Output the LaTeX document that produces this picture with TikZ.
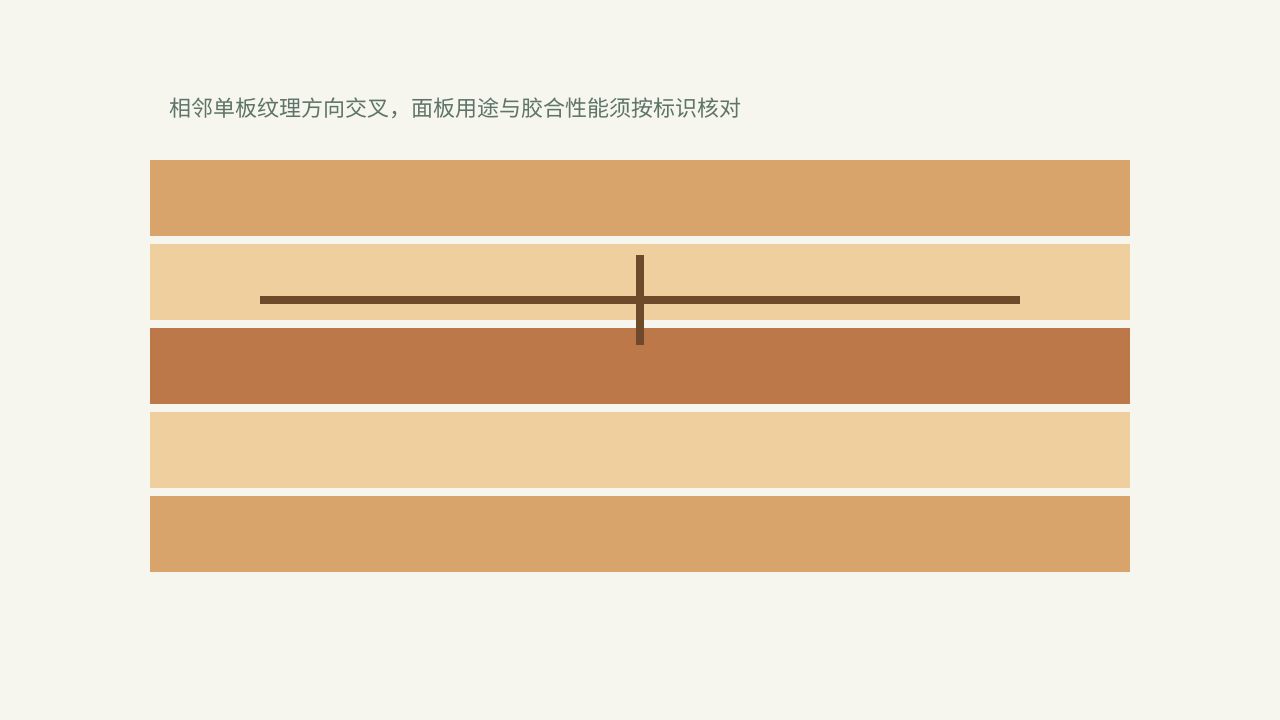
\documentclass[tikz,border=0pt]{standalone}
\usepackage{fontspec}
\newfontfamily\cjk{Noto Sans CJK SC}
\definecolor{bg}{HTML}{F6F5EE}
\definecolor{woodmid}{HTML}{D9A36C}
\definecolor{woodlight}{HTML}{F0CF9E}
\definecolor{wooddark}{HTML}{BC7849}
\definecolor{grain}{HTML}{6E4A2B}
\definecolor{title}{HTML}{5E7468}
\begin{document}
\begin{tikzpicture}[x=1pt,y=-1pt,
  ply/.style={inner sep=0pt, outer sep=0pt, minimum width=980pt, minimum height=76pt, anchor=north west},
  grainbar/.style={fill=grain, draw=none}]
\fill[bg] (0,0) rectangle (1280,720);
\useasboundingbox (0,0) rectangle (1280,720);
\node[ply, fill=woodmid] (p1) at (150,160) {};
\node[ply, fill=woodlight] (p2) at (150,244) {};
\node[ply, fill=wooddark] (p3) at (150,328) {};
\node[ply, fill=woodlight] (p4) at (150,412) {};
\node[ply, fill=woodmid] (p5) at (150,496) {};
\fill[grainbar] (260,296) rectangle (1020,304);
\fill[grainbar] (636,255) rectangle (644,345);
\node[anchor=west, inner sep=0pt, text=title, font=\cjk\fontsize{22pt}{26pt}\selectfont] (t) at (169,108) {相邻单板纹理方向交叉，面板用途与胶合性能须按标识核对};
\end{tikzpicture}
\end{document}
